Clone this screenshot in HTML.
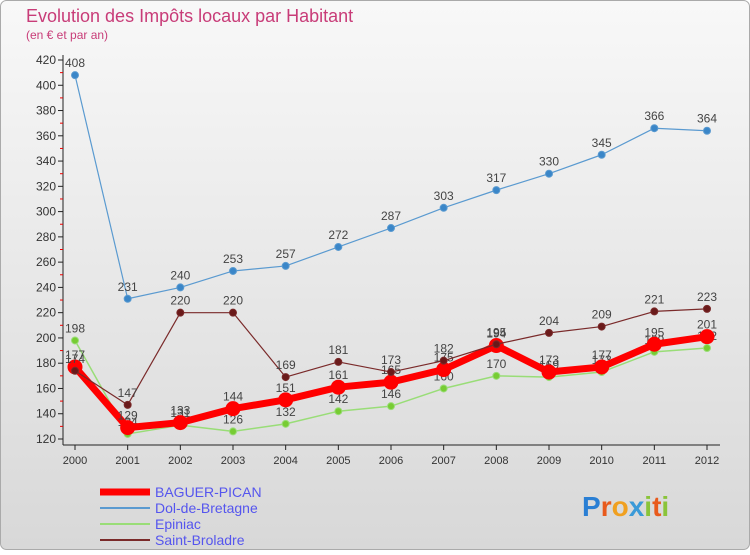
<!DOCTYPE html>
<html><head><meta charset="utf-8"><style>
body{margin:0;width:750px;height:550px;overflow:hidden;font-family:"Liberation Sans",sans-serif}
</style></head><body>
<svg width="750" height="550" xmlns="http://www.w3.org/2000/svg" id="svg">
<defs><linearGradient id="bg" x1="0" y1="0" x2="0" y2="1"><stop offset="0" stop-color="#f8f8f8"/><stop offset="1" stop-color="#d8d8d8"/></linearGradient></defs>
<rect x="0.5" y="0.5" width="749" height="549" rx="6" fill="url(#bg)" stroke="#aaa"/>
<text x="26" y="22" font-size="18" fill="#c83c78">Evolution des Impôts locaux par Habitant</text>
<text x="26" y="39" font-size="12" fill="#c83c78">(en € et par an)</text>
<g id="axes"></g><g id="series"></g><g id="legend"></g>
<g font-size="28" font-weight="bold">
<text x="582" y="516" fill="#2a7fd4">P<tspan fill="#e85a1c">r</tspan><tspan fill="#f0a020">o</tspan><tspan fill="#3a9ad8">x</tspan><tspan fill="#8ac43a">i</tspan><tspan fill="#e85a1c">t</tspan><tspan fill="#8ac43a">i</tspan></text></g>
</svg>
<script>
const years=["2000","2001","2002","2003","2004","2005","2006","2007","2008","2009","2010","2011","2012"];
const baguer=[177,129,133,144,151,161,165,175,194,173,177,195,201];
const dol=[408,231,240,253,257,272,287,303,317,330,345,366,364];
const epiniac=[198,124,131,126,132,142,146,160,170,169,173,189,192];
const broladre=[174,147,220,220,169,181,173,182,195,204,209,221,223];
const yTicks=[120,140,160,180,200,220,240,260,280,300,320,340,360,380,400,420];
const NS="http://www.w3.org/2000/svg";
const X=i=>75+i*(707-75)/(years.length-1);
const Y=v=>439-(v-120)*(439-60)/300;
function mk(tag,attrs,parent,txt){const e=document.createElementNS(NS,tag);for(const k in attrs)e.setAttribute(k,attrs[k]);if(txt!==undefined)e.textContent=txt;parent.appendChild(e);return e;}
const ax=document.getElementById('axes');
let l=mk('line',{x1:63,y1:55,x2:63,y2:445,stroke:'#222'},ax);


l=mk('line',{x1:63,y1:445,x2:720,y2:445,stroke:'#222'},ax);


yTicks.forEach(v=>{mk('line',{x1:58,y1:Y(v),x2:63,y2:Y(v),stroke:'#222'},ax);
 if(v<420)mk('line',{x1:60,y1:Y(v+10),x2:63,y2:Y(v+10),stroke:'#e00'},ax);
 const t=mk('text',{x:56,y:Y(v)+4,'font-size':12,fill:'#333','text-anchor':'end'},ax,v);
 
 });
years.forEach((y,i)=>{mk('line',{x1:X(i),y1:445,x2:X(i),y2:450,stroke:'#222'},ax);
 const t=mk('text',{x:X(i),y:464,'font-size':11,fill:'#333','text-anchor':'middle'},ax,y);
 
 });
const sg=document.getElementById('series');
function series(name,data,color,w,r,dot){const g=mk('g',{},sg);
 
 
 mk('polyline',{points:data.map((v,i)=>X(i)+','+Y(v)).join(' '),fill:'none',stroke:color,'stroke-width':w,'stroke-linejoin':'round'},g);
 data.forEach((v,i)=>{const c=mk('circle',{cx:X(i),cy:Y(v),r:r,fill:dot,stroke:color,'stroke-width':1},g);
  
  
  const t=mk('text',{x:X(i),y:Y(v)-8,'font-size':12,fill:'#444','text-anchor':'middle'},g,v);
  
  });}
series('dol-de-bretagne',dol,'#5a9ad0',1.2,3.5,'#3a86c8');
series('epiniac',epiniac,'#99dd77',1.5,3.5,'#77cc33');
series('baguer-pican',baguer,'#ff0000',7,7,'#ff0000');
series('saint-broladre',broladre,'#7a2a2a',1.2,3.5,'#6a1a1a');
const lg=document.getElementById('legend');
[['BAGUER-PICAN','#ff0000',7],['Dol-de-Bretagne','#5a9ad0',2],['Epiniac','#99dd77',2],['Saint-Broladre','#7a2a2a',2]].forEach((e,i)=>{
 const g=mk('g',{},lg);
 
 
 const y=492+i*16;
 mk('line',{x1:100,y1:y,x2:150,y2:y,stroke:e[1],'stroke-width':e[2]},g);
 mk('text',{x:155,y:y+5,'font-size':14,fill:'#5555ee'},g,e[0]);});
</script>
</body></html>
